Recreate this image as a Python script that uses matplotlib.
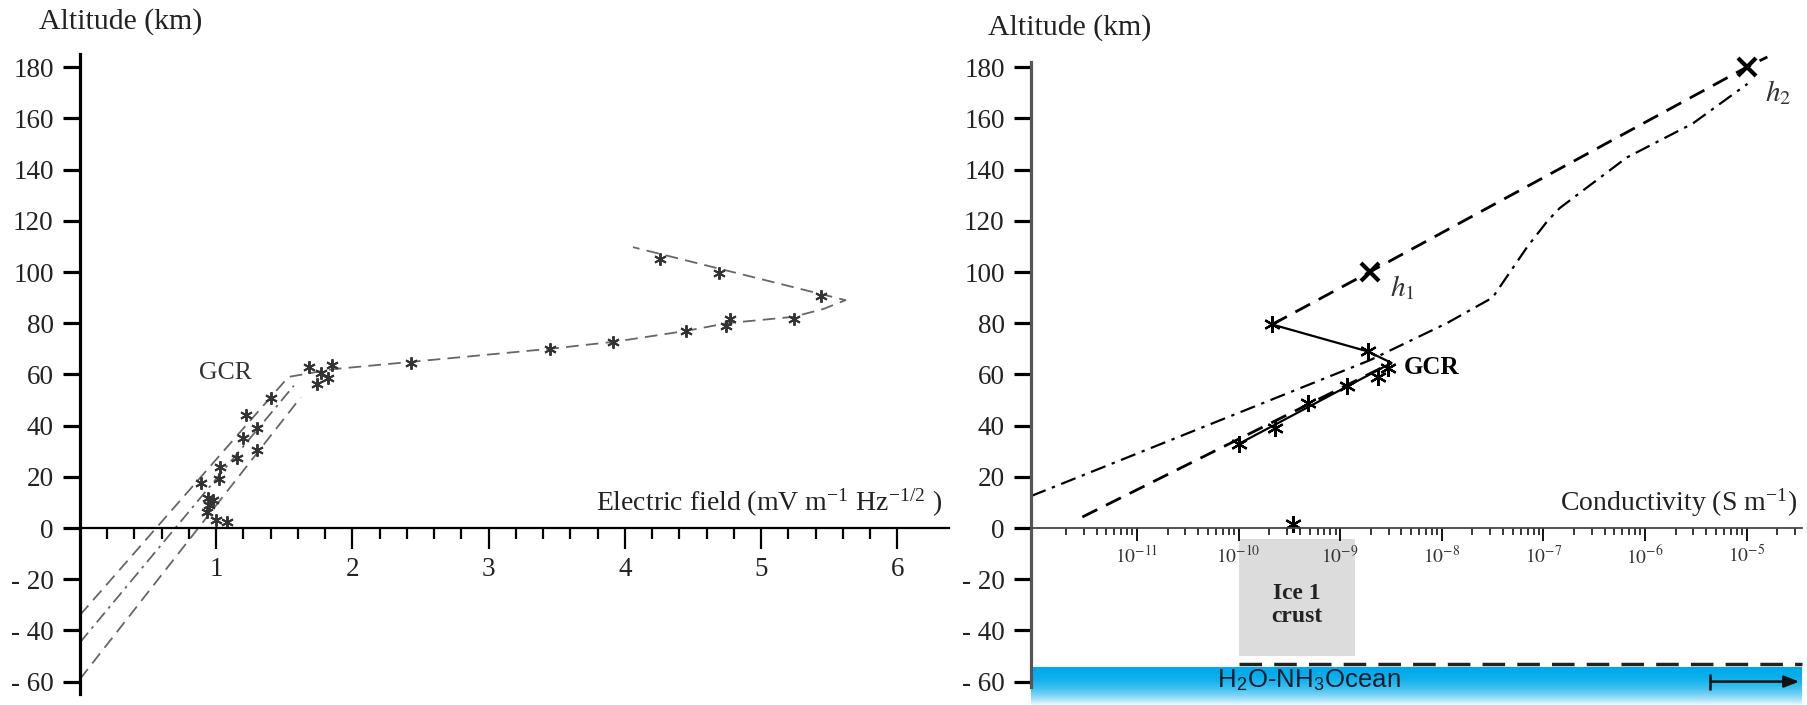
import numpy as np
import matplotlib
matplotlib.use('Agg')
import matplotlib.pyplot as plt
from matplotlib.ticker import FixedLocator, LogLocator, NullFormatter, FuncFormatter

plt.rcParams['font.family'] = ['Liberation Serif', 'DejaVu Serif']
plt.rcParams['mathtext.fontset'] = 'stix'

# ---------------- data ----------------
alt_ticks = [-60, -40, -20, 0, 20, 40, 60, 80, 100, 120, 140, 160, 180]
alt_labels = ['- 60', '- 40', '- 20', '0', '20', '40', '60', '80', '100', '120', '140', '160', '180']

# Left panel: electric field
ef_major = [1, 2, 3, 4, 5, 6]
ef_star_x = [0.89, 0.94, 0.98, 0.95, 0.93, 1.00, 1.08, 1.02, 1.03, 1.15, 1.30, 1.20, 1.30, 1.22, 1.40,
             1.74, 1.82, 1.68, 1.77, 1.85, 2.43, 3.45, 3.91, 4.45, 4.74, 4.77, 5.24, 4.26, 4.69, 5.44]
ef_star_y = [17.5, 11.7, 10.9, 9.0, 6.2, 3.0, 2.3, 19.0, 23.7, 27.2, 30.4, 35.0, 38.9, 44.0, 50.6,
             56.4, 58.4, 63.0, 60.7, 63.8, 64.6, 70.0, 72.8, 77.0, 79.0, 81.7, 81.7, 105.0, 99.7, 90.7]
ef_main_x = [0.0, 1.53, 1.85, 2.45, 3.45, 3.93, 4.45, 4.75, 5.24, 5.46, 5.62, 4.06]
ef_main_y = [-34.0, 59.0, 62.0, 65.0, 70.0, 72.8, 77.0, 80.0, 82.5, 85.6, 89.0, 109.7]
ef_mid_x = [0.0, 1.57]
ef_mid_y = [-44.7, 55.6]
ef_low_x = [0.0, 1.62]
ef_low_y = [-59.0, 51.0]

# Right panel: conductivity
cd_star_x = [1.02e-10, 2.3e-10, 4.8e-10, 1.17e-9, 2.34e-9, 2.95e-9, 1.86e-9, 2.14e-10, 3.4e-10]
cd_star_y = [33.0, 39.0, 49.0, 55.3, 58.8, 62.6, 69.0, 79.5, 1.5]
cd_solid_x = [1.02e-10, 3.2e-9, 1.86e-9, 2.14e-10]
cd_solid_y = [33.0, 64.5, 69.0, 79.5]
cd_dashA_x = [2.9e-12, 3.2e-9]
cd_dashA_y = [4.3, 64.5]
cd_dashB_x = [2.14e-10, 1.95e-9, 1.0e-5, 1.6e-5]
cd_dashB_y = [79.5, 100.0, 180.0, 184.0]
cd_dd_x = [9.1e-13, 1.95e-9, 1.12e-8, 3.16e-8, 6.9e-8, 1.1e-7, 1.45e-7, 6.6e-7, 2.95e-6, 1.02e-5]
cd_dd_y = [12.5, 65.5, 80.0, 90.0, 109.7, 120.0, 125.0, 144.7, 158.0, 173.5]
h_x = [1.95e-9, 1.0e-5]
h_y = [100.0, 180.0]
ice_x = [1.0e-10, 1.4e-9]
ice_y = [-50.0, -4.3]
ocean_top = -53.0
cd_xlim = [10 ** -12.043, 10 ** -4.455]

# ---------------- figure ----------------
W, H = 1808, 705
fig = plt.figure(figsize=(W / 100, H / 100), dpi=100)

# ocean band (below right axes)
bax = fig.add_axes([1031 / W, 0, 771 / W, 38 / H], zorder=0)
n = 60
t = np.linspace(0, 1, n)[:, None]
top = np.array([0.0, 0.67, 0.92])
bot = np.array([0.93, 0.98, 1.0])
mix = t ** 2.2
grad = (top * (1 - mix) + bot * mix)[:, None, :]
bax.imshow(grad, aspect='auto', extent=[0, 1, 0, 1])
bax.axis('off')

ybot, ytop = -65, 185
ax_bottom = (H - 694.4) / H
ax_height = 640 / H

def style_y(ax, spine_color, bounds):
    ax.set_ylim(ybot, ytop)
    ax.yaxis.set_major_locator(FixedLocator(alt_ticks))
    ax.set_yticklabels(alt_labels)
    ax.tick_params(axis='y', direction='out', length=12, width=2.3, labelsize=19.5, pad=7, color='black',
                   labelcolor='#222222')
    ax.spines['left'].set_color(spine_color)
    ax.spines['left'].set_linewidth(2.3)
    ax.spines['left'].set_bounds(*bounds)
    ax.spines['top'].set_visible(False)
    ax.spines['right'].set_visible(False)
    ax.spines['bottom'].set_position(('data', 0))

# ---- left axes ----
ax1 = fig.add_axes([80 / W, ax_bottom, 869 / W, ax_height], zorder=1)
ax1.set_facecolor('none')
style_y(ax1, 'black', (-65, 185))
ax1.set_xlim(0, 6.38)
ax1.xaxis.set_major_locator(FixedLocator(ef_major))
ax1.xaxis.set_minor_locator(FixedLocator([v for v in np.round(np.arange(0.2, 6.0, 0.2), 1) if v % 1 != 0]))
ax1.tick_params(axis='x', which='major', direction='out', length=15, width=1.6, labelsize=19.5, pad=6,
                labelcolor='#222222')
ax1.tick_params(axis='x', which='minor', direction='out', length=8, width=1.6)
ax1.spines['bottom'].set_linewidth(1.6)

gray = '#666666'
ax1.plot(ef_main_x, ef_main_y, color=gray, lw=1.3, dashes=(7, 4))
ax1.plot(ef_mid_x, ef_mid_y, color=gray, lw=1.3, dashes=(7, 3, 1.5, 3))
ax1.plot(ef_low_x, ef_low_y, color=gray, lw=1.3, dashes=(7, 4))
ax1.plot(ef_star_x, ef_star_y, ls='none', marker=(6, 2, 0), ms=9, mew=1.4, color='#333333')
ax1.text(1.07, 60.7, 'GCR', ha='center', va='center', fontsize=18.5, color='#333333')
ax1.text(6.33, 9.8, 'Electric field (mV m$^{\\mathregular{-1}}$ Hz$^{\\mathregular{-1/2}}$ )',
         ha='right', va='center', fontsize=20, color='#222222')
fig.text(39 / W, 1 - 22 / H, 'Altitude (km)', ha='left', va='center', fontsize=21.5, color='#222222')

# ---- right axes ----
ax2 = fig.add_axes([1031 / W, ax_bottom, 771 / W, ax_height], zorder=1)
ax2.set_facecolor('none')
style_y(ax2, '#555555', (-62, 182))
ax2.set_xscale('log')
ax2.set_xlim(*cd_xlim)
ax2.xaxis.set_major_locator(FixedLocator([1e-11, 1e-10, 1e-9, 1e-8, 1e-7, 1e-6, 1e-5]))
ax2.xaxis.set_major_formatter(FuncFormatter(lambda v, p: '$10^{%d}$' % int(round(np.log10(v)))))
ax2.xaxis.set_minor_locator(LogLocator(base=10, subs=np.arange(2, 10), numticks=30))
ax2.xaxis.set_minor_formatter(NullFormatter())
ax2.tick_params(axis='x', which='major', direction='out', length=9, width=1.3, labelsize=14, pad=3,
                labelcolor='#333333')
ax2.tick_params(axis='x', which='minor', direction='out', length=5, width=1.1)
ax2.spines['bottom'].set_linewidth(1.3)
ax2.spines['bottom'].set_color('#444444')

ax2.fill_between(ice_x, ice_y[0], ice_y[1], color='#dcdcdc', lw=0, zorder=0)
ax2.text(np.sqrt(ice_x[0] * ice_x[1]), -30, 'Ice 1\ncrust', ha='center', va='center',
         fontsize=17, fontweight='bold', linespacing=1.15, color='#222222')
ax2.plot([ice_x[0], cd_xlim[1]], [ocean_top, ocean_top], color='#222222', lw=2.5, dashes=(6.5, 3.5),
         clip_on=False)

ax2.plot(cd_dashA_x, cd_dashA_y, color='black', lw=2.0, dashes=(6, 3.5))
ax2.plot(cd_dashB_x, cd_dashB_y, color='black', lw=2.0, dashes=(6, 3.5))
ax2.plot(cd_dd_x, cd_dd_y, color='black', lw=1.6, dashes=(7, 3, 1.5, 3))
ax2.plot(cd_solid_x, cd_solid_y, color='black', lw=1.6)
ax2.plot(cd_star_x, cd_star_y, ls='none', marker=(6, 2, 0), ms=12, mew=1.6, color='black')
ax2.plot(h_x, h_y, ls='none', marker='x', ms=13, mew=3, color='black')

ax2.text(4.2e-9, 62.6, 'GCR', ha='left', va='center', fontsize=18, fontweight='bold')
ax2.text(3.1e-9, 93.8, '$h_1$', ha='left', va='center', fontsize=21, color='#333333')
ax2.text(1.5e-5, 170, '$h_2$', ha='left', va='center', fontsize=21, color='#333333')
ax2.text(3.16e-5, 9.8, 'Conductivity (S m$^{\\mathregular{-1}}$)', ha='right', va='center',
         fontsize=20, color='#222222')
fig.text(988 / W, 1 - 28 / H, 'Altitude (km)', ha='left', va='center', fontsize=21.5, color='#222222')

ax2.text(4.9e-10, -59.5, 'H$_\\mathregular{2}$O-NH$_\\mathregular{3}$Ocean', ha='center', va='center',
         fontsize=18.5, family=['Liberation Sans', 'DejaVu Sans'], color='#1a1a2a')
ax2.annotate('', xy=(3.3e-5, -60), xytext=(4.4e-6, -60),
             arrowprops=dict(arrowstyle='-|>,head_length=0.9,head_width=0.35', color='#111111', lw=1.8,
                             shrinkA=0, shrinkB=0), annotation_clip=False)
ax2.plot([4.4e-6], [-60], marker='|', ms=12, mew=1.8, color='#111111', clip_on=False)

fig.savefig('out.png', dpi=100)
